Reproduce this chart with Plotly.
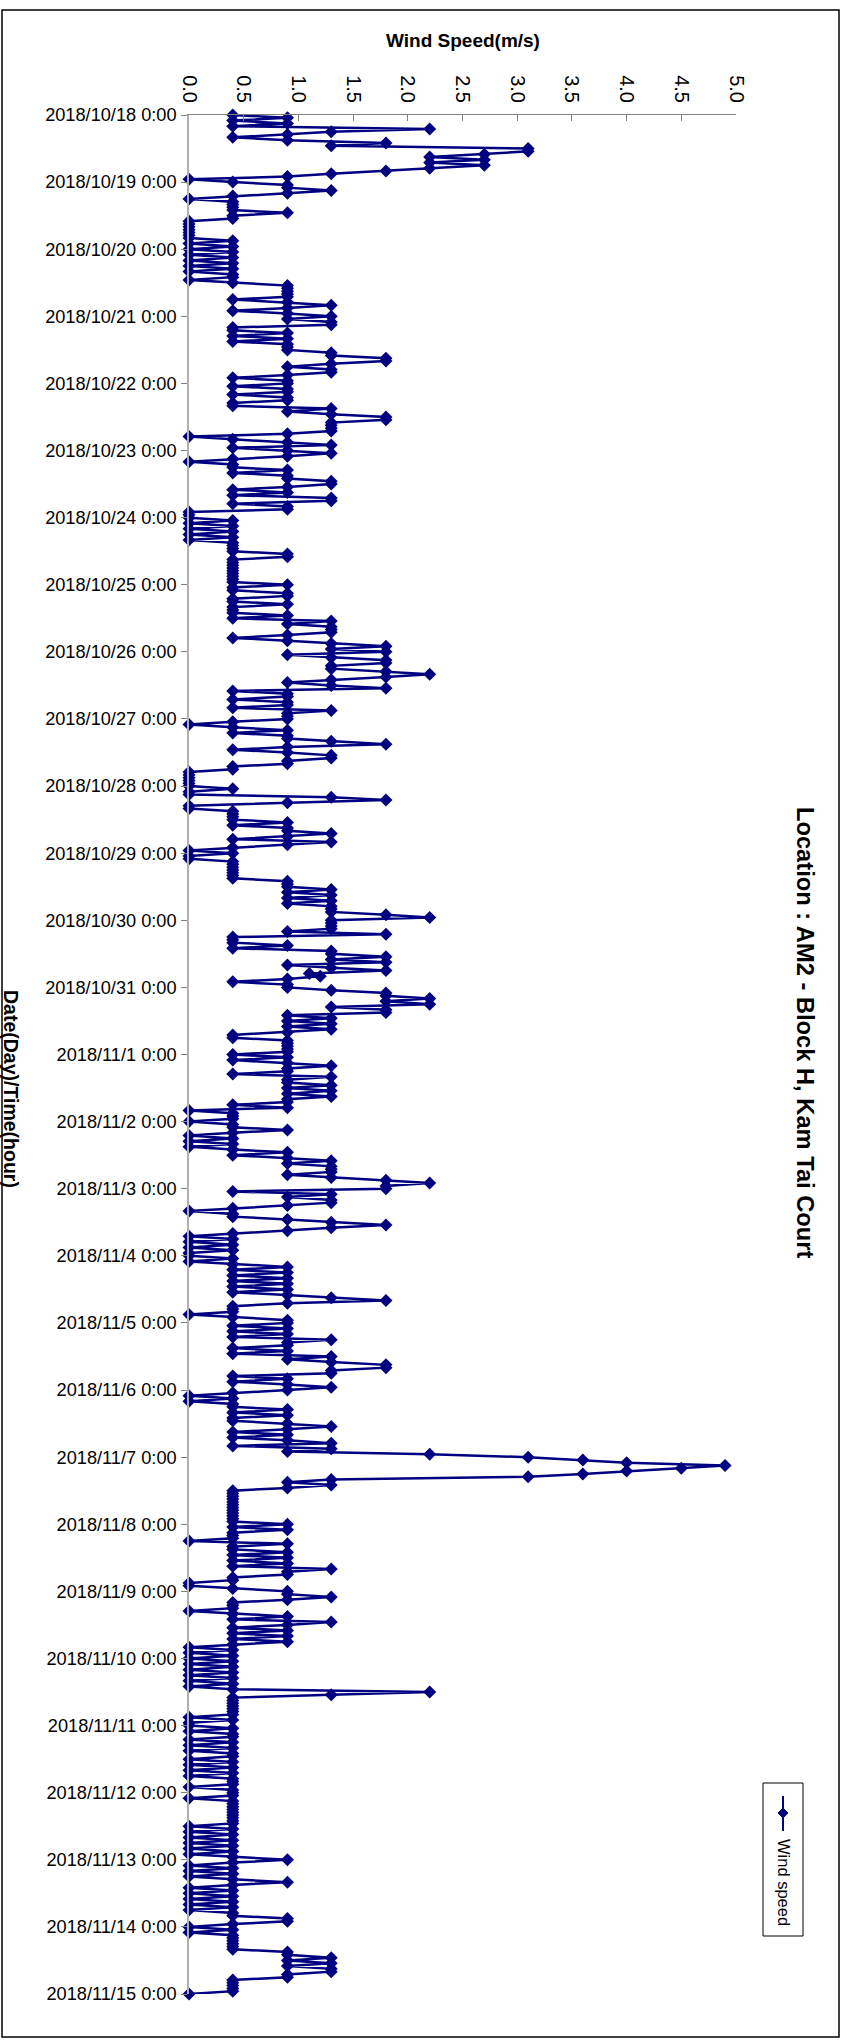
import pandas as pd
import plotly.graph_objects as go

# Hourly wind speed (m/s), one list per day starting at 0:00
d1018 = [0.4,0.9,0.4,0.9,0.4,2.2,1.3,0.9,0.4,0.9,1.8,1.3,3.1,3.1,2.7,2.2,2.7,2.2,2.7,2.2,1.8,1.3,0.9,0]
d1019 = [0.4,0.9,0.9,1.3,0.9,0.4,0,0.4,0.4,0.4,0.4,0.9,0.4,0.4,0,0,0,0,0,0,0,0.4,0,0.4]
d1020 = [0,0.4,0,0.4,0,0.4,0,0.4,0,0.4,0.4,0,0.4,0.9,0.9,0.9,0.9,0.9,0.4,0.9,1.3,0.9,0.4,0.9]
d1021 = [1.3,0.9,1.3,1.3,0.4,0.4,0.9,0.4,0.9,0.4,0.9,0.9,0.9,1.3,1.3,1.8,1.8,1.3,0.9,1.3,1.3,0.9,0.4,0.9]
d1022 = [0.9,0.4,0.9,0.9,0.4,0.9,0.9,0.4,0.4,1.3,0.9,1.3,1.8,1.8,1.3,1.3,1.3,1.3,0.9,0,0.4,0.9,1.3,0.4]
d1023 = [0.9,1.3,0.9,0.4,0,0.4,0.4,0.9,0.4,0.9,0.9,1.3,1.3,0.9,0.4,0.9,0.4,1.3,1.3,0.4,0.9,0.9,0,0]
d1024 = [0,0.4,0,0.4,0,0.4,0,0.4,0,0.4,0.4,0.4,0.4,0.9,0.9,0.4,0.4,0.4,0.4,0.4,0.4,0.4,0.4,0.4]
d1025 = [0.9,0.4,0.4,0.9,0.9,0.4,0.4,0.9,0.4,0.4,0.4,0.9,0.4,1.3,0.9,1.3,1.3,1.3,0.9,0.4,0.9,1.3,1.8,1.3]
d1026 = [1.8,0.9,1.3,1.8,1.8,1.3,1.3,1.8,2.2,1.8,1.3,0.9,1.3,1.8,0.4,0.9,0.9,0.4,0.9,0.9,0.4,1.3,0.9,0.9]
d1027 = [0.9,0.4,0,0.4,0.9,0.4,0.9,0.9,1.3,1.8,0.9,0.4,0.9,1.3,1.3,0.9,0.9,0.4,0.4,0,0,0,0,0]
d1028 = [0,0.4,0,0,1.3,1.8,0.9,0,0,0.4,0.4,0.4,0.4,0.9,0.4,0.9,0.9,1.3,0.9,0.4,1.3,0.9,0.4,0]
d1029 = [0.4,0,0,0.4,0.4,0.4,0.4,0.4,0.4,0.4,0.9,0.9,0.9,1.3,0.9,1.3,0.9,1.3,0.9,1.3,1.3,1.3,1.8,2.2]
d1030 = [1.3,1.3,1.3,1.3,0.9,1.8,0.4,0.4,0.4,0.9,0.4,1.3,1.3,1.8,1.3,1.8,0.9,1.3,1.8,1.1,1.2,0.9,0.4,0.9]
d1031 = [0.9,1.3,1.8,1.8,2.2,1.8,2.2,1.3,1.8,1.8,0.9,1.3,0.9,1.3,0.9,1.3,0.9,0.4,0.4,0.9,0.9,0.9,0.9,0.9]
d1101 = [0.4,0.9,0.4,0.9,1.3,0.9,0.9,0.4,1.3,0.9,0.9,1.3,0.9,1.3,0.9,1.3,0.9,0.9,0.4,0.9,0,0.4,0.4,0.4]
d1102 = [0,0.4,0.4,0.9,0.4,0,0.4,0,0.4,0,0.4,0.9,0.4,0.9,1.3,0.9,1.3,1.3,1.3,0.9,1.3,1.8,2.2,1.8]
d1103 = [1.8,0.4,1.3,0.9,1.3,1.3,0.9,0.4,0,0.4,0.4,0.9,1.3,1.8,1.3,0.9,0.4,0,0.4,0,0.4,0,0.4,0]
d1104 = [0,0.4,0,0.4,0.9,0.4,0.9,0.4,0.9,0.4,0.9,0.4,0.9,0.4,0.9,1.3,1.8,0.9,0.4,0.4,0.4,0,0.4,0.9]
d1105 = [0.9,0.4,0.9,0.4,0.9,0.4,1.3,0.9,0.9,0.4,0.9,0.4,1.3,0.9,1.3,1.8,1.8,1.3,1.3,0.4,0.9,0.4,0.9,1.3]
d1106 = [0.9,0.4,0,0.4,0,0.4,0.4,0.9,0.4,0.9,0.4,0.4,0.9,1.3,0.9,0.4,0.9,0.4,0.9,1.3,0.4,1.3,0.9,2.2]
d1107 = [3.1,3.6,4.0,4.9,4.5,4.0,3.6,3.1,1.3,0.9,1.3,0.9,0.4,0.4,0.4,0.4,0.4,0.4,0.4,0.4,0.4,0.4,0.4,0.4]
d1108 = [0.9,0.4,0.9,0.4,0.4,0.4,0,0.9,0.4,0.4,0.9,0.4,0.9,0.4,0.9,0.4,1.3,0.9,0.9,0.4,0.4,0,0,0.4]
d1109 = [0.9,0.9,1.3,0.9,0.4,0.4,0.4,0,0.4,0.9,0.4,1.3,0.9,0.4,0.9,0.4,0.9,0.4,0.9,0.4,0,0.4,0,0.4]
d1110 = [0,0.4,0,0.4,0,0.4,0,0.4,0,0.4,0,0.4,2.2,1.3,0.4,0.4,0.4,0.4,0.4,0.4,0.4,0,0.4,0]
d1111 = [0,0.4,0,0.4,0.4,0,0.4,0,0.4,0,0.4,0.4,0,0.4,0,0.4,0,0.4,0,0.4,0.4,0.4,0,0.4]
d1112 = [0.4,0.4,0,0.4,0.4,0.4,0.4,0.4,0.4,0.4,0.4,0.4,0,0.4,0,0.4,0,0.4,0,0.4,0,0.4,0,0.4]
d1113 = [0.9,0.4,0,0.4,0,0.4,0,0.4,0.9,0.4,0,0.4,0,0.4,0,0.4,0,0.4,0,0.4,0.4,0.9,0.9,0.4]
d1114 = [0,0.4,0,0.4,0.4,0.4,0.4,0.4,0.4,0.9,0.9,1.3,0.9,1.3,0.9,1.3,1.3,0.9,0.9,0.4,0.4,0.4,0.4,0.4]
d1115 = [0]

speed_ticks = [0.0, 0.5, 1.0, 1.5, 2.0, 2.5, 3.0, 3.5, 4.0, 4.5, 5.0]
speed_labels = ["0.0", "0.5", "1.0", "1.5", "2.0", "2.5", "3.0", "3.5", "4.0", "4.5", "5.0"]
start, end = "2018-10-18 00:00", "2018-11-15 00:00"

days = [d1018, d1019, d1020, d1021, d1022, d1023, d1024, d1025, d1026, d1027,
        d1028, d1029, d1030, d1031, d1101, d1102, d1103, d1104, d1105, d1106,
        d1107, d1108, d1109, d1110, d1111, d1112, d1113, d1114, d1115]
speed = [v for d in days for v in d]
times = pd.date_range(start, periods=len(speed), freq="h")
day_ticks = pd.date_range(start, end, freq="D")
day_labels = [f"{t.year}/{t.month}/{t.day} 0:00" for t in day_ticks]

NAVY = "#000080"
FONT = "Liberation Sans, Arial, sans-serif"

fig = go.Figure()
fig.add_trace(go.Scatter(
    x=speed, y=times, mode="lines+markers", name="Wind speed",
    line=dict(color=NAVY, width=2.5),
    marker=dict(symbol="diamond", size=10, color=NAVY),
    cliponaxis=False,
))

W, H = 847, 2043
L, R, T, B = 189, 111, 115, 49
pw, ph = W - L - R, H - T - B

def px(x):
    return (x - L) / pw

def py(y):
    return (H - B - y) / ph

fig.update_layout(
    width=W, height=H,
    margin=dict(l=L, r=R, t=T, b=B),
    paper_bgcolor="white", plot_bgcolor="white",
    showlegend=False,
    font=dict(family=FONT, color="black"),
    xaxis=dict(
        range=[0, 5], side="top", tickvals=speed_ticks, ticktext=speed_labels,
        tickangle=90, ticks="inside", ticklen=6, tickcolor="#808080",
        showline=True, linecolor="#808080", linewidth=1,
        showgrid=False, zeroline=False, tickfont=dict(size=20),
        ticklabelstandoff=4, automargin=False,
    ),
    yaxis=dict(
        type="date", range=[end, start], tickvals=day_ticks, ticktext=day_labels,
        ticks="outside", ticklen=6, tickcolor="#808080",
        showline=True, linecolor="#b0b0b0", linewidth=1.5,
        showgrid=False, zeroline=False, tickfont=dict(size=18.2),
        ticklabelstandoff=1, automargin=False,
    ),
)

# Chart border
fig.add_shape(type="rect", xref="paper", yref="paper",
              x0=px(2), x1=px(839), y0=py(10), y1=py(2037),
              line=dict(color="black", width=1.5), layer="below")

# Titles
ann = dict(xref="paper", yref="paper", showarrow=False, xanchor="center", yanchor="middle")
fig.add_annotation(text="<b>Wind Speed(m/s)</b>", x=px(463), y=py(40),
                   font=dict(size=19), **ann)
fig.add_annotation(text="<b>Location : AM2 - Block H, Kam Tai Court</b>", x=px(805), y=py(1033),
                   textangle=90, font=dict(size=23.7), **ann)
fig.add_annotation(text="<b>Date(Day)/Time(hour)</b>", x=px(11), y=py(1089),
                   textangle=90, font=dict(size=19.5), **ann)

# Legend (rotated)
fig.add_shape(type="rect", xref="paper", yref="paper",
              x0=px(763), x1=px(803), y0=py(1783), y1=py(1936),
              line=dict(color="black", width=1), fillcolor="white")
fig.add_shape(type="line", xref="paper", yref="paper",
              x0=px(783), x1=px(783), y0=py(1796), y1=py(1831),
              line=dict(color=NAVY, width=2))
cx, cy, r = 783, 1813, 5
fig.add_shape(type="path", xref="paper", yref="paper",
              path=f"M {px(cx)},{py(cy - r)} L {px(cx + r)},{py(cy)} L {px(cx)},{py(cy + r)} L {px(cx - r)},{py(cy)} Z",
              fillcolor=NAVY, line=dict(color=NAVY, width=1))
fig.add_annotation(text="Wind speed", x=px(784), y=py(1882),
                   textangle=90, font=dict(size=16.5), **ann)

fig.write_html("out.html", config={"displayModeBar": False},
               post_script="document.body.style.margin='0px';")
